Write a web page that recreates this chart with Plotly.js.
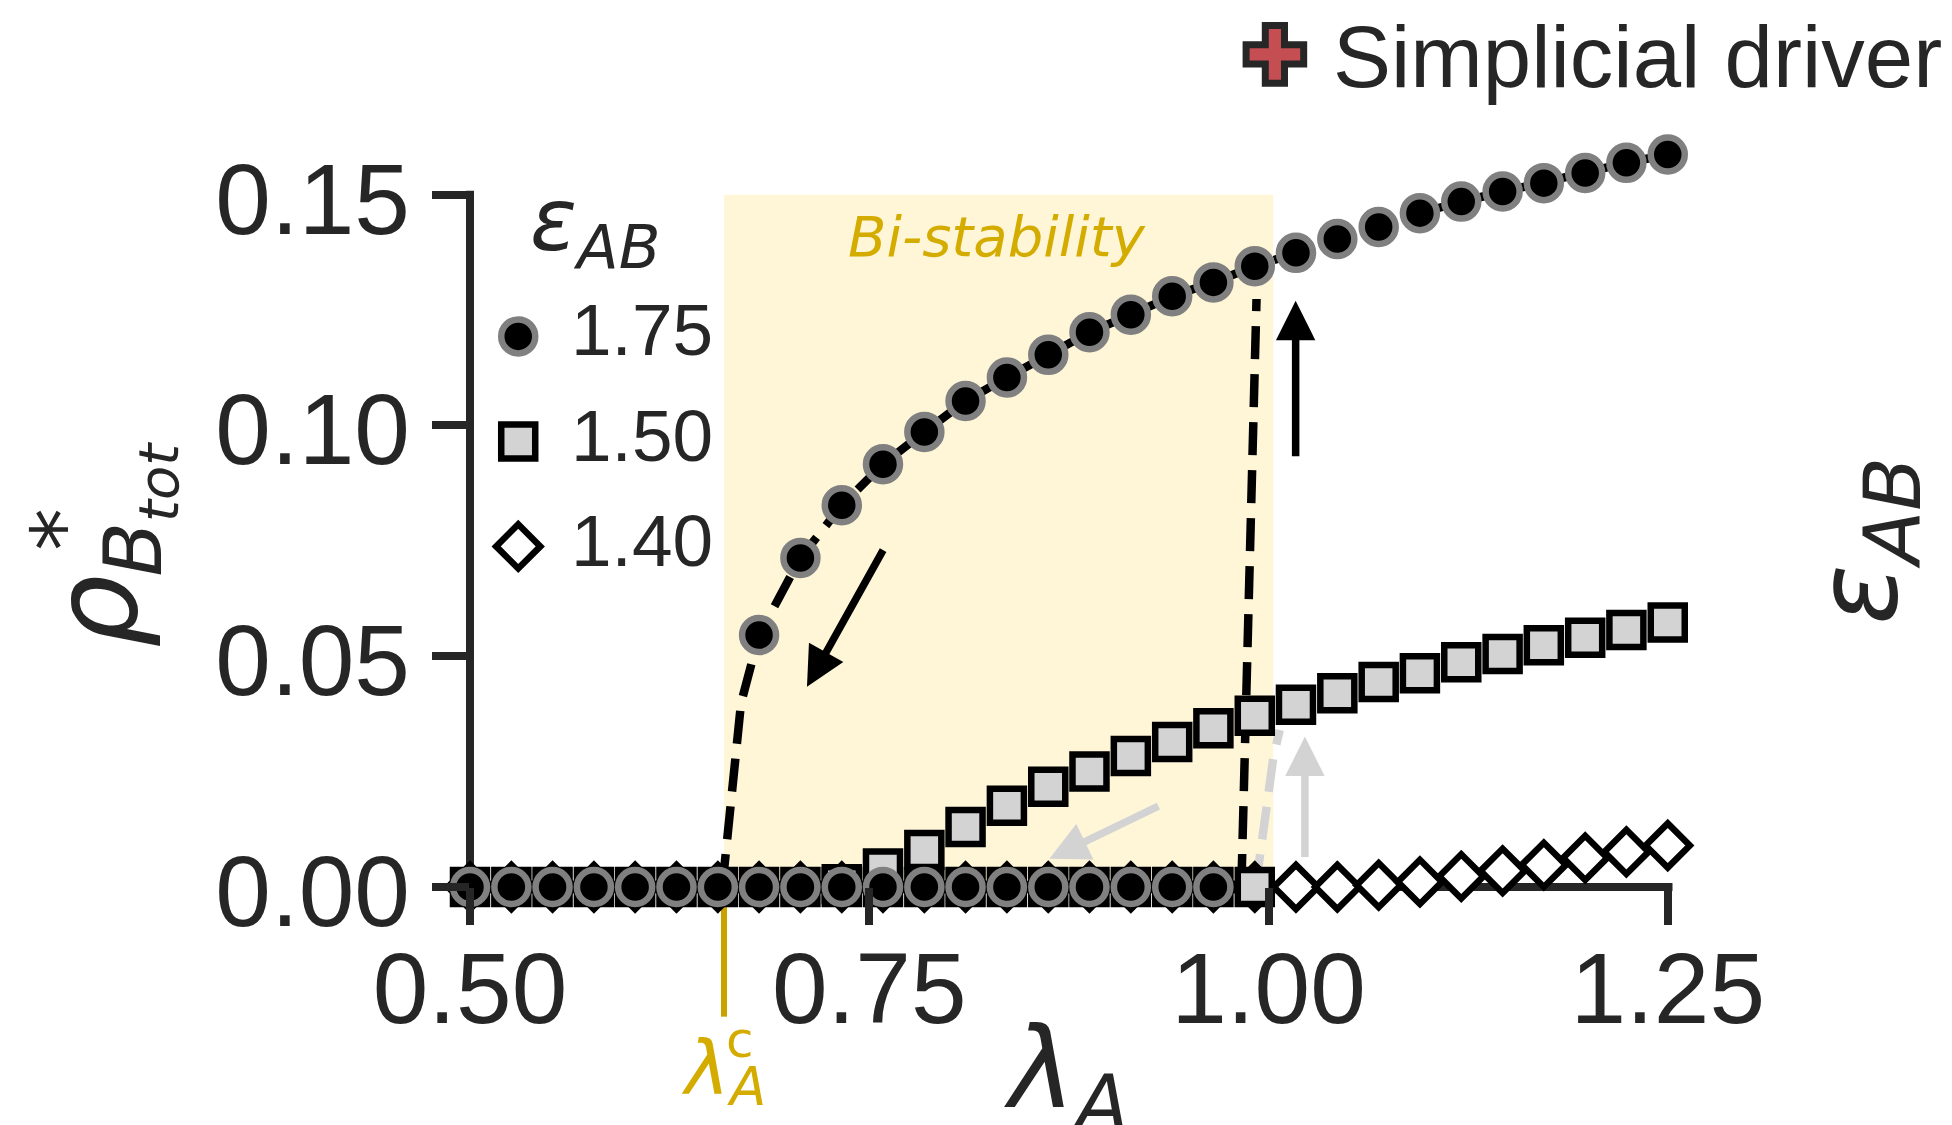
<!DOCTYPE html>
<html><head><meta charset="utf-8">
<script src="https://cdn.plot.ly/plotly-3.0.1.min.js"></script>
<style>html,body{margin:0;padding:0;background:#fff}</style></head>
<body><div id="chart" style="width:1952px;height:1125px"></div>
<script>
const lambdaA=[0.5,0.5259,0.5517,0.5776,0.6034,0.6293,0.6552,0.6810,0.7069,0.7328,0.7586,0.7845,0.8103,0.8362,0.8621,0.8879,0.9138,0.9397,0.9655,0.9914,1.0172,1.0431,1.0690,1.0948,1.1207,1.1466,1.1724,1.1983,1.2241,1.25];
const lowX175=lambdaA.slice(0,19);
const lowY175=[0,0,0,0,0,0,0,0,0,0,0,0,0,0,0,0,0,0,0];
const upX175=lambdaA.slice(7);
const upY175=[0.0546,0.0713,0.0827,0.0916,0.0986,0.1053,0.1104,0.1153,0.1202,0.1240,0.1280,0.1310,0.1345,0.1374,0.1404,0.1430,0.1460,0.1485,0.1507,0.1525,0.1547,0.1569,0.1587];
const lowX150=lambdaA.slice(0,20);
const lowY150=[0,0,0,0,0,0,0,0,0,0,0,0,0,0,0,0,0,0,0,0];
const upX150=lambdaA.slice(9);
const upY150=[0.0006,0.0040,0.0080,0.0130,0.0176,0.0217,0.0250,0.0284,0.0314,0.0344,0.0371,0.0395,0.0420,0.0444,0.0463,0.0487,0.0505,0.0524,0.0540,0.0557,0.0573];
const y140=[0,0,0,0,0,0,0,0,0,0,0,0,0,0,0,0,0,0,0,0,0,0,0.0004,0.0011,0.0023,0.0035,0.0048,0.0063,0.0076,0.0090];
const backX175=[0.658,0.6697,0.6810];
const backY175=[0,0.0398,0.0546];
const jumpX175=[0.983,0.9925];
const jumpY175=[0,0.1274];
const jumpX150=[0.992,1.003,1.007];
const jumpY150=[0,0.028,0.034];
const xTicks=[0.5,0.75,1,1.25];
const yTicks=[0,0.05,0.10,0.15];
const keyX=0.5302;
const keyVals=[{y:0.1193,l:'1.75'},{y:0.0965,l:'1.50'},{y:0.0738,l:'1.40'}];

const L=470,R=1952,T=0,B=887.3,PXX=1597,PXY=4617;
const px=(x,y)=>({x:(x-L)/(R-L),y:(B-y)/(B-T)});
const INK='#262626',GOLD='#d4ac00',LG='#d3d3d3';
const MATH='DejaVu Sans',SANS='Liberation Sans, Arial, sans-serif';

function txt(x,y,text,size,color,family,opts){
  const p=px(x,y);
  return Object.assign({xref:'paper',yref:'paper',x:p.x,y:p.y,text,showarrow:false,xanchor:'center',yanchor:'middle',
    font:{size,color,family}},opts||{});
}
function arrow(x0,y0,x1,y1,color){
  return {xref:'x',yref:'y',axref:'x',ayref:'y',x:x1,y:y1,ax:x0,ay:y0,text:'',showarrow:true,arrowhead:2,arrowsize:1.05,arrowwidth:7.5,arrowcolor:color};
}
function pline(x0,y0,x1,y1,color,w){
  const a=px(x0,y0),b=px(x1,y1);
  return {type:'line',xref:'paper',yref:'paper',x0:a.x,y0:a.y,x1:b.x,y1:b.y,line:{color,width:w},layer:'below'};
}
const circ={symbol:'circle',size:34,color:'#000',line:{color:'#808080',width:6.5}};
const sq={symbol:'square',size:34,color:LG,line:{color:'#000',width:6.5}};
const dia={symbol:'diamond',size:34,color:'#fff',line:{color:'#000',width:6.5}};
const dashK={color:'#000',width:8.5,dash:'33px,15px'};
const dashG={color:LG,width:8.5,dash:'33px,15px'};
const mk=(x,y,marker)=>({type:'scatter',mode:'markers',x,y,marker,cliponaxis:false,hoverinfo:'skip'});
const ln=(x,y,line)=>({type:'scatter',mode:'lines',x,y,line,cliponaxis:false,hoverinfo:'skip'});
const data=[
  ln(jumpX150,jumpY150,dashG),
  ln(backX175.concat(upX175.slice(1)),backY175.concat(upY175.slice(1)),dashK),
  ln(jumpX175,jumpY175,dashK),
  mk(lambdaA,y140,dia),
  mk(lowX150,lowY150,sq),
  mk(upX150,upY150,sq),
  mk(lowX175,lowY175,circ),
  mk(upX175,upY175,circ),
  mk([keyX],[keyVals[0].y],circ),
  mk([keyX],[keyVals[1].y],sq),
  mk([keyX],[keyVals[2].y],dia),
  mk([1.004],[0.1804],{symbol:'cross',size:48,color:'#c44e52',line:{color:INK,width:7}})
];
const axisBase={showgrid:false,zeroline:false,showline:false,ticks:'outside',ticklen:37,tickwidth:8,tickcolor:INK,
  tickfont:{family:SANS,size:100,color:INK}};
const layout={
  width:1952,height:1125,margin:{l:L,r:0,t:0,b:1125-B,pad:0},showlegend:false,
  paper_bgcolor:'#fff',plot_bgcolor:'rgba(0,0,0,0)',
  xaxis:Object.assign({},axisBase,{range:[0.5,0.5+(R-L)/PXX],tickvals:xTicks,ticktext:xTicks.map(v=>v.toFixed(2)),ticklabelstandoff:-22}),
  yaxis:Object.assign({},axisBase,{range:[0,(B-T)/PXY],tickvals:yTicks,ticktext:yTicks.map(v=>v.toFixed(2)),ticklabelstandoff:2,ticklabelshift:4}),
  shapes:[
    {type:'rect',xref:'x',yref:'y',x0:0.659,x1:1.003,y0:0,y1:0.15,fillcolor:'#fff6d8',line:{width:0},layer:'below'},
    pline(470,190.7,470,887.3,INK,8),
    pline(466,887.3,1672.5,887.3,INK,8),
    pline(724,905,724,1017,'#c9a200',6)
  ],
  annotations:[
    arrow(1.017,0.093,1.017,0.127,'#000'),
    arrow(0.7592,0.0733,0.711,0.0434,'#000'),
    arrow(1.0228,0.00615,1.0228,0.0326,LG),
    arrow(0.932,0.0177,0.8628,0.0061,LG),
    txt(997,237,'<i>Bi-stability</i>',56,GOLD,MATH),
    txt(595,226,'<i>ε<sub>AB</sub></i>',87,INK,MATH),
    txt(642,330,keyVals[0].l,73,INK,SANS),
    txt(642,436,keyVals[1].l,73,INK,SANS),
    txt(642,541,keyVals[2].l,73,INK,SANS),
    txt(1331,57,'Simplicial driver',87,INK,SANS,{xanchor:'left'}),
    txt(1066,1076,'<i>λ<sub>A</sub></i>',112,INK,MATH),
    txt(705,1068,'<i>λ</i>',75,GOLD,MATH),
    txt(746.5,1087,'<i>A</i>',53,GOLD,MATH),
    txt(740,1040,'c',50,GOLD,MATH),
    txt(1865,541,'<i>ε<sub>AB</sub></i>',112,INK,MATH,{textangle:-90}),
    txt(96,612,'<i>ρ</i>',115,INK,MATH,{textangle:-90}),
    txt(64,530,'*',85,INK,MATH,{textangle:-90}),
    txt(139,510,'<i>B<sub>tot</sub></i>',80,INK,MATH,{textangle:-90})
  ]
};
Plotly.newPlot('chart',data,layout,{displayModeBar:false,staticPlot:true});
</script></body></html>
